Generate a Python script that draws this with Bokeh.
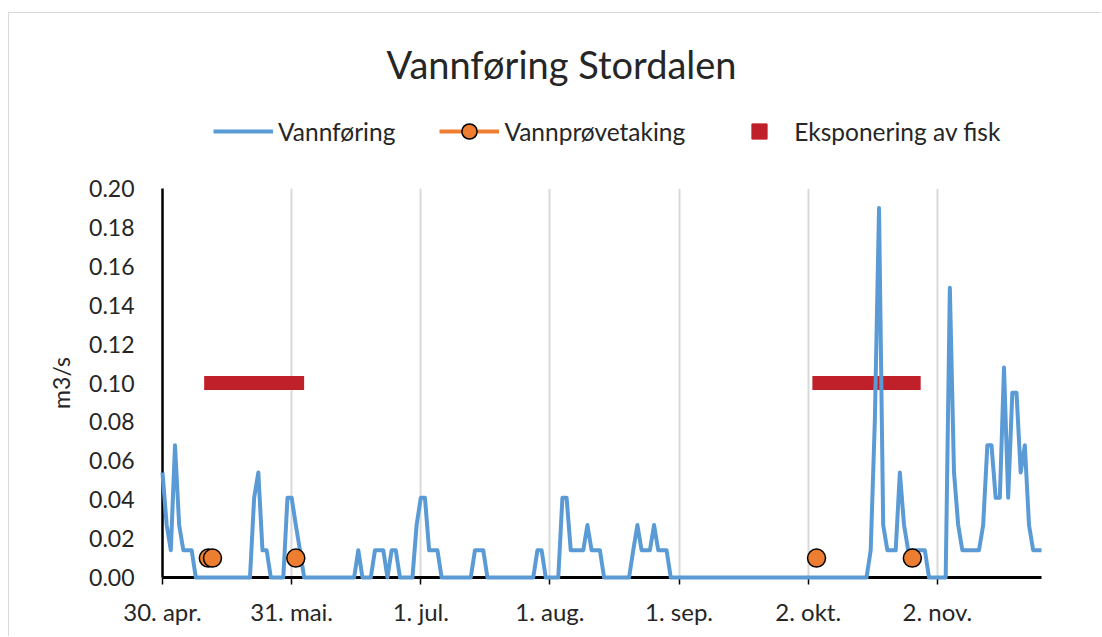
import pandas as pd
from bokeh.plotting import figure
from bokeh.layouts import column
from bokeh.models import (Range1d, FixedTicker, NumeralTickFormatter, Label,
                          Legend, LegendItem)
from bokeh.embed import file_html
from bokeh.resources import INLINE

# ---------------- data ----------------
start_date = "2019-04-30"
# daily discharge (m3/s), 30 Apr .. 27 Nov
flow_apr = [0.054]
flow_may = [0.027, 0.014, 0.068, 0.027, 0.014, 0.014, 0.014,
            0, 0, 0, 0, 0, 0, 0, 0, 0, 0, 0, 0, 0, 0,
            0.041, 0.054, 0.014, 0.014, 0, 0, 0, 0, 0.041, 0.041]
flow_jun = [0.027, 0.014, 0, 0, 0, 0, 0, 0, 0, 0, 0, 0, 0, 0, 0,
            0.014, 0, 0, 0, 0.014, 0.014, 0.014, 0, 0.014, 0.014,
            0, 0, 0, 0, 0.027]
flow_jul = [0.041, 0.041, 0.014, 0.014, 0.014, 0, 0, 0, 0, 0, 0, 0, 0,
            0.014, 0.014, 0.014, 0, 0, 0, 0, 0, 0, 0, 0, 0, 0, 0, 0,
            0.014, 0.014, 0]
flow_aug = [0, 0, 0, 0.041, 0.041, 0.014, 0.014, 0.014, 0.014, 0.027,
            0.014, 0.014, 0.014, 0, 0, 0, 0, 0, 0, 0, 0.014, 0.027,
            0.014, 0.014, 0.014, 0.027, 0.014, 0.014, 0.014, 0, 0]
flow_sep = [0] * 30
flow_okt = [0, 0, 0, 0, 0, 0, 0, 0, 0, 0, 0, 0, 0, 0, 0, 0,
            0.014, 0.081, 0.190, 0.027, 0.014, 0.014, 0.014, 0.054, 0.027,
            0.014, 0.014, 0.014, 0.014, 0.014, 0]
flow_nov = [0, 0, 0, 0, 0.149, 0.054, 0.027, 0.014, 0.014, 0.014, 0.014,
            0.014, 0.027, 0.068, 0.068, 0.041, 0.041, 0.108, 0.041, 0.095,
            0.095, 0.054, 0.068, 0.027, 0.014, 0.014, 0.014]
flow = flow_apr + flow_may + flow_jun + flow_jul + flow_aug + flow_sep + flow_okt + flow_nov

sample_dates = ["2019-05-11", "2019-05-12", "2019-06-01", "2019-10-04", "2019-10-27"]
sample_values = [0.01, 0.01, 0.01, 0.01, 0.01]

exposure_starts = ["2019-05-10", "2019-10-03"]
exposure_ends = ["2019-06-03", "2019-10-29"]
exposure_values = [0.10, 0.10]

tick_dates = ["2019-04-30", "2019-05-31", "2019-07-01", "2019-08-01",
              "2019-09-01", "2019-10-02", "2019-11-02"]
tick_labels = ["30. apr.", "31. mai.", "1. jul.", "1. aug.", "1. sep.", "2. okt.", "2. nov."]
y_ticks = [0.0, 0.02, 0.04, 0.06, 0.08, 0.10, 0.12, 0.14, 0.16, 0.18, 0.20]

# ---------------- style ----------------
FONT = "Lato"
TXT = "#262626"
BLUE = "#5B9BD5"
ORANGE = "#ED7D31"
RED = "#C0202A"
W = 1092
HEAD_H = 137

# ---------------- header (title + legend) ----------------
h = figure(width=W, height=HEAD_H, x_range=Range1d(0, W), y_range=Range1d(HEAD_H, 0),
           x_axis_location=None, y_axis_location=None,
           output_backend="svg", toolbar_location=None, min_border=0)
h.frame_align = False
h.outline_line_color = None
h.grid.visible = False

# legend-sample renderers (kept outside the visible area)
lg_flow = h.line(x=[-500, -400], y=[-500, -500], line_color=BLUE, line_width=4)
lg_samp_line = h.line(x=[-500, -400], y=[-500, -500], line_color=ORANGE, line_width=4)
lg_samp_pt = h.scatter(x=[-500], y=[-500], marker="circle", fill_color=ORANGE,
                       line_color="black", line_width=1.5)
lg_exp = h.scatter(x=[-500], y=[-500], marker="square", fill_color=RED, line_color=RED)

legend = Legend(items=[
    LegendItem(label="Vannføring", renderers=[lg_flow]),
    LegendItem(label="Vannprøvetaking", renderers=[lg_samp_line, lg_samp_pt]),
    LegendItem(label="Eksponering av fisk", renderers=[lg_exp]),
], orientation="horizontal", location=(204, 0), glyph_width=60, glyph_height=38,
    label_standoff=5, spacing=44, padding=0, margin=0,
    border_line_color=None, background_fill_alpha=0,
    label_text_font=FONT, label_text_font_size="24.5px", label_text_color=TXT)
h.add_layout(legend)

h.add_layout(Label(x=552, y=50, text="Vannføring Stordalen", text_align="center",
                   text_baseline="middle", text_font=FONT, text_font_size="38px",
                   text_color=TXT))

# ---------------- main chart ----------------
dates = pd.date_range(start_date, periods=len(flow), freq="D")

p = figure(width=W, height=486, x_axis_type="datetime",
           x_range=Range1d(dates[0], dates[-1]), y_range=Range1d(0, 0.2),
           output_backend="svg", toolbar_location=None,
           min_border_left=153, min_border_right=60,
           min_border_top=38, min_border_bottom=59)
p.frame_align = False
p.outline_line_color = None

r_exp = p.segment(x0=pd.to_datetime(exposure_starts), y0=exposure_values,
                  x1=pd.to_datetime(exposure_ends), y1=exposure_values,
                  line_color=RED, line_width=14, line_cap="butt")
r_flow = p.line(dates, flow, line_color=BLUE, line_width=4,
                line_join="round", level="overlay")
r_samp = p.scatter(pd.to_datetime(sample_dates), sample_values, size=18,
                   fill_color=ORANGE, line_color="black", line_width=1.5,
                   level="overlay")

p.xaxis.ticker = FixedTicker(ticks=[pd.Timestamp(d).value // 10**6 for d in tick_dates])
p.xaxis.major_label_overrides = {pd.Timestamp(d).value // 10**6: l
                                 for d, l in zip(tick_dates, tick_labels)}
p.xaxis.axis_line_color = "black"
p.xaxis.axis_line_width = 3
p.xaxis.major_tick_line_color = "black"
p.xaxis.major_tick_line_width = 1.5
p.xaxis.major_tick_in = 0
p.xaxis.major_tick_out = 7
p.xaxis.minor_tick_line_color = None
p.xaxis.major_label_standoff = 12
p.xaxis.major_label_text_font = FONT
p.xaxis.major_label_text_font_size = "24px"
p.xaxis.major_label_text_color = TXT

p.yaxis.ticker = FixedTicker(ticks=y_ticks)
p.yaxis.formatter = NumeralTickFormatter(format="0.00")
p.yaxis.axis_line_color = "black"
p.yaxis.axis_line_width = 2.5
p.yaxis.major_tick_line_color = None
p.yaxis.minor_tick_line_color = None
p.yaxis.major_label_standoff = 22
p.yaxis.major_label_text_font = FONT
p.yaxis.major_label_text_font_size = "23px"
p.yaxis.major_label_text_color = TXT
p.yaxis.axis_label = "m3/s"
p.yaxis.axis_label_text_font = FONT
p.yaxis.axis_label_text_font_size = "23px"
p.yaxis.axis_label_text_font_style = "normal"
p.yaxis.axis_label_text_color = TXT
p.yaxis.axis_label_standoff = 11

p.xgrid.grid_line_color = "#d9d9d9"
p.xgrid.grid_line_width = 2
p.ygrid.grid_line_color = None

layout = column(h, p, spacing=0, margin=(12, 0, 0, 8),
                styles={"border-left": "1px solid #d9d9d9",
                        "border-top": "1px solid #d9d9d9"})
open("out.html", "w").write(file_html(layout, INLINE))
